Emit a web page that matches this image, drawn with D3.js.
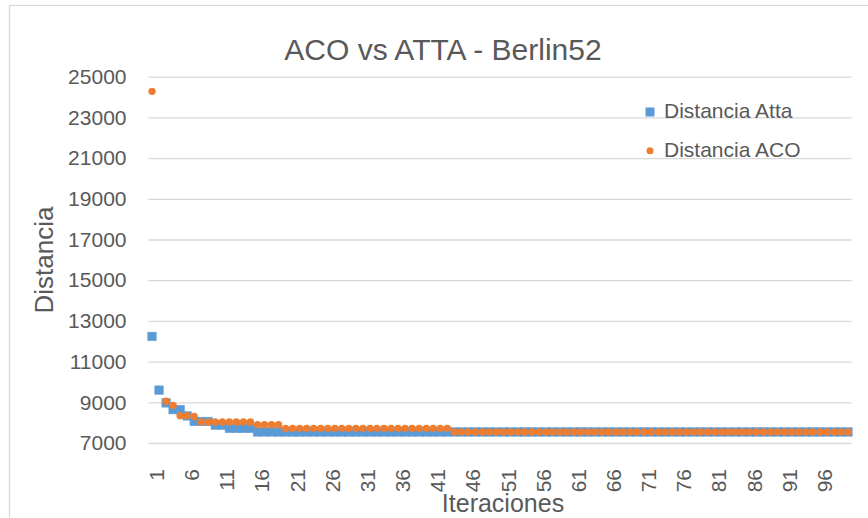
<!DOCTYPE html>
<html>
<head>
<meta charset="utf-8">
<script src="https://cdn.jsdelivr.net/npm/d3@7"></script>
<style>
  body { margin: 0; background: #fff; }
  svg { display: block; font-family: "Liberation Sans", Arial, sans-serif; }
</style>
</head>
<body>
<svg id="chart" width="868" height="518"></svg>
<script>
// Iteration numbers on the category axis
const iterations = d3.range(1, 101);

// Best tour length per iteration, ATTA
const attaValues = [
  12240, 9600, 8970, 8640, 8640, 8330, 8060, 8060, 8060, 7880,
  7880, 7720, 7720, 7720, 7720, 7542, 7542, 7542, 7542, 7542,
  7542, 7542, 7542, 7542, 7542, 7542, 7542, 7542, 7542, 7542,
  7542, 7542, 7542, 7542, 7542, 7542, 7542, 7542, 7542, 7542,
  7542, 7542, 7542, 7542, 7542, 7542, 7542, 7542, 7542, 7542,
  7542, 7542, 7542, 7542, 7542, 7542, 7542, 7542, 7542, 7542,
  7542, 7542, 7542, 7542, 7542, 7542, 7542, 7542, 7542, 7542,
  7542, 7542, 7542, 7542, 7542, 7542, 7542, 7542, 7542, 7542,
  7542, 7542, 7542, 7542, 7542, 7542, 7542, 7542, 7542, 7542,
  7542, 7542, 7542, 7542, 7542, 7542, 7542, 7542, 7542, 7542
];

// Best tour length per iteration, ACO (no value recorded for iteration 2)
const acoValues = [
  24280, null, 9050, 8850, 8340, 8340, 8300, 8030, 8030, 8030,
  8030, 8030, 8030, 8030, 8030, 7900, 7900, 7900, 7900, 7720,
  7720, 7720, 7720, 7720, 7720, 7720, 7720, 7720, 7720, 7720,
  7720, 7720, 7720, 7720, 7720, 7720, 7720, 7720, 7720, 7720,
  7720, 7720, 7720, 7542, 7542, 7542, 7542, 7542, 7542, 7542,
  7542, 7542, 7542, 7542, 7542, 7542, 7542, 7542, 7542, 7542,
  7542, 7542, 7542, 7542, 7542, 7542, 7542, 7542, 7542, 7542,
  7542, 7542, 7542, 7542, 7542, 7542, 7542, 7542, 7542, 7542,
  7542, 7542, 7542, 7542, 7542, 7542, 7542, 7542, 7542, 7542,
  7542, 7542, 7542, 7542, 7542, 7542, 7542, 7542, 7542, 7542
];

const yTicks = [7000, 9000, 11000, 13000, 15000, 17000, 19000, 21000, 23000, 25000];
const xTickLabels = [1, 6, 11, 16, 21, 26, 31, 36, 41, 46, 51, 56, 61, 66, 71, 76, 81, 86, 91, 96];

const seriesNames = ["Distancia Atta", "Distancia ACO"];
const colors = { atta: "#5B9BD5", aco: "#ED7D31" };
const textColor = "#595959";
const gridColor = "#D9D9D9";

const svg = d3.select("#chart");
const plot = { left: 148.5, right: 851.5, top: 76.7, bottom: 443 };

// Chart frame
svg.append("rect")
  .attr("x", 9.5).attr("y", 5.5)
  .attr("width", 880).attr("height", 540)
  .attr("fill", "#fff")
  .attr("stroke", gridColor).attr("stroke-width", 1.3);

const x = d3.scalePoint()
  .domain(iterations)
  .range([plot.left, plot.right])
  .padding(0.5);

const y = d3.scaleLinear()
  .domain([7000, 25000])
  .range([plot.bottom, plot.top]);

// Horizontal gridlines
svg.append("g")
  .attr("transform", `translate(${plot.left},0)`)
  .call(d3.axisLeft(y).tickValues(yTicks).tickSize(-(plot.right - plot.left)).tickFormat(""))
  .call(g => g.select(".domain").remove())
  .call(g => g.selectAll("line").attr("stroke", gridColor).attr("stroke-width", 1.3));

// Value axis labels
svg.append("g")
  .attr("transform", `translate(${plot.left},0)`)
  .call(d3.axisLeft(y).tickValues(yTicks).tickSize(0).tickPadding(22).tickFormat(d3.format("d")))
  .call(g => g.select(".domain").remove())
  .call(g => g.selectAll("text")
    .attr("fill", textColor)
    .attr("font-size", 21)
    .attr("font-family", "'Liberation Sans', Arial, sans-serif"));

// Category axis labels, rotated
svg.append("g")
  .attr("transform", `translate(0,${plot.bottom})`)
  .call(d3.axisBottom(x).tickValues(xTickLabels).tickSize(0))
  .call(g => g.select(".domain").remove())
  .call(g => g.selectAll("text")
    .attr("transform", "rotate(-90)")
    .attr("text-anchor", "end")
    .attr("x", -26)
    .attr("y", 11.5)
    .attr("dy", 0)
    .attr("fill", textColor)
    .attr("font-size", 21)
    .attr("font-family", "'Liberation Sans', Arial, sans-serif"));

// ATTA markers (squares)
const sq = 8.4;
svg.append("g")
  .selectAll("rect")
  .data(iterations.map((it, i) => ({ it, v: attaValues[i] })).filter(d => d.v != null))
  .join("rect")
  .attr("x", d => x(d.it) - sq / 2)
  .attr("y", d => y(d.v) - sq / 2)
  .attr("width", sq).attr("height", sq)
  .attr("fill", colors.atta)
  .attr("stroke", colors.atta).attr("stroke-width", 0.6);

// ACO markers (circles)
svg.append("g")
  .selectAll("circle")
  .data(iterations.map((it, i) => ({ it, v: acoValues[i] })).filter(d => d.v != null))
  .join("circle")
  .attr("cx", d => x(d.it))
  .attr("cy", d => y(d.v))
  .attr("r", 3.7)
  .attr("fill", colors.aco);

// Title
svg.append("text")
  .attr("x", 443).attr("y", 60)
  .attr("text-anchor", "middle")
  .attr("font-size", 30)
  .attr("fill", textColor)
  .text("ACO vs ATTA - Berlin52");

// Axis titles
svg.append("text")
  .attr("transform", "translate(53,260) rotate(-90)")
  .attr("text-anchor", "middle")
  .attr("font-size", 26)
  .attr("fill", textColor)
  .text("Distancia");

svg.append("text")
  .attr("x", 503).attr("y", 512)
  .attr("text-anchor", "middle")
  .attr("font-size", 25)
  .attr("fill", textColor)
  .text("Iteraciones");

// Legend
const legend = svg.append("g");
legend.append("rect")
  .attr("x", 650 - 4.5).attr("y", 112 - 4.5)
  .attr("width", 9).attr("height", 9)
  .attr("fill", colors.atta);
legend.append("text")
  .attr("x", 664).attr("y", 117.5)
  .attr("font-size", 21).attr("fill", textColor)
  .text(seriesNames[0]);
legend.append("circle")
  .attr("cx", 650).attr("cy", 150.7).attr("r", 3.5)
  .attr("fill", colors.aco);
legend.append("text")
  .attr("x", 664).attr("y", 157)
  .attr("font-size", 21).attr("fill", textColor)
  .text(seriesNames[1]);
</script>
</body>
</html>
